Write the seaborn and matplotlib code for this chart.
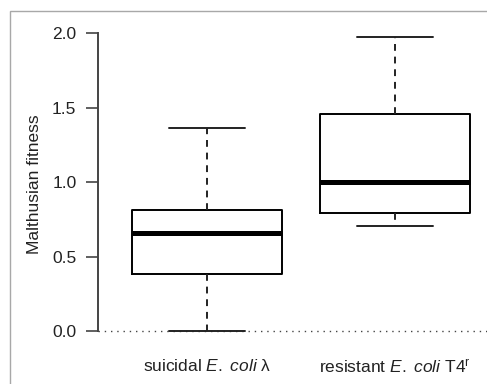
import pandas as pd
import matplotlib
matplotlib.use("Agg")
import matplotlib.pyplot as plt
import seaborn as sns
from matplotlib.patches import Rectangle

# Five-number summaries (min, Q1, median, Q3, max)
groups = ["suicidal", "resistant"]
suicidal = [0.00, 0.385, 0.655, 0.815, 1.365]
resistant = [0.705, 0.795, 1.00, 1.455, 1.97]
tick_labels = [r"suicidal $\mathit{E.\ coli}$ λ",
               r"resistant $\mathit{E.\ coli}$ T4$^{\mathrm{r}}$"]
y_ticks = [0.0, 0.5, 1.0, 1.5, 2.0]

df = pd.DataFrame({
    "group": [groups[0]] * len(suicidal) + [groups[1]] * len(resistant),
    "fitness": suicidal + resistant,
})

sns.set_style("white")
plt.rcParams["font.family"] = ["Liberation Sans", "DejaVu Sans"]
plt.rcParams["mathtext.fontset"] = "custom"
plt.rcParams["mathtext.rm"] = "Liberation Sans"
plt.rcParams["mathtext.it"] = "Liberation Sans:italic"

fs = 12.5
fig = plt.figure(figsize=(4.87, 3.84), dpi=100)
W, H = 487, 384
# plot region in pixels: x 98..504, y 25.7..342.8
ax = fig.add_axes([98 / W, (H - 342.8) / H, (504 - 98) / W, (342.8 - 25.7) / H])
ax.patch.set_alpha(0)

# light grey frame (cropped on the right and bottom)
fig.patches.append(Rectangle((10 / W, -0.1), 2, (H - 11) / H + 0.1,
                             transform=fig.transFigure, fill=False,
                             edgecolor="#a8a8a8", lw=1.0, zorder=0))

ax.axhline(0, color="#444444", ls=(0, (1, 3.5)), lw=1.0, zorder=1)

sns.boxplot(data=df, x="group", y="fitness", order=groups, ax=ax,
            whis=(0, 100), width=0.8, fill=False, color="black",
            linewidth=1.4, showfliers=False,
            medianprops=dict(linewidth=3.6, color="black", solid_capstyle="butt"),
            whiskerprops=dict(linestyle=(0, (3.5, 3)), color="#222222", linewidth=1.4),
            capprops=dict(color="#222222", linewidth=1.4),
            boxprops=dict(color="black", linewidth=1.4))

# shorten caps to half the box width, as in R
for line in ax.lines:
    xd = line.get_xdata()
    yd = line.get_ydata()
    if len(xd) == 2 and yd[0] == yd[1] and line.get_linewidth() < 2 and line.get_linestyle() == "-":
        c = (xd[0] + xd[1]) / 2
        if abs(xd[1] - xd[0]) > 0.05:
            line.set_xdata([c - 0.2, c + 0.2])

ax.set_xlim(-0.58, 1.58)
ax.set_ylim(-0.079, 2.049)
ax.set_yticks(y_ticks)
ax.set_yticklabels([f"{t:.1f}" for t in y_ticks], fontsize=fs, color="#222222")
ax.set_xticks([0, 1])
ax.set_xticklabels(tick_labels, fontsize=fs, color="#222222")
ax.tick_params(axis="y", length=8.5, width=1.2, color="#444444", pad=7, left=True)
ax.tick_params(axis="x", length=0, pad=11)
ax.set_xlabel("")
ax.set_ylabel("Malthusian fitness", fontsize=fs, color="#222222", labelpad=7)

for s in ["top", "right", "bottom"]:
    ax.spines[s].set_visible(False)
ax.spines["left"].set_bounds(0, 2)
ax.spines["left"].set_color("#444444")
ax.spines["left"].set_linewidth(1.4)

fig.savefig("out.png", dpi=100)
